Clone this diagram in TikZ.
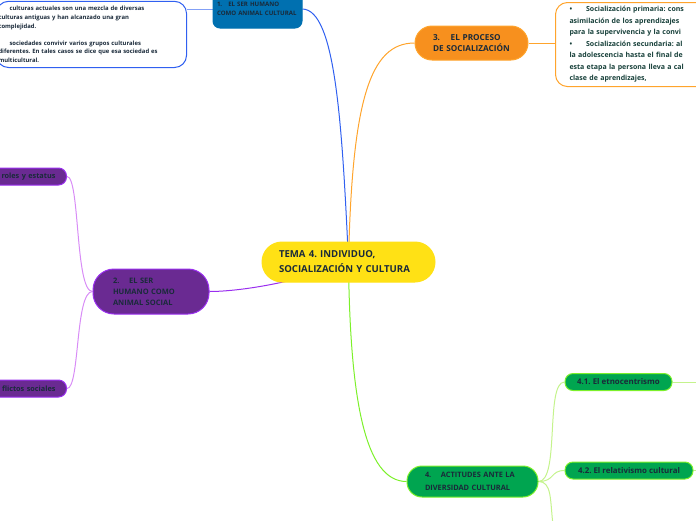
\documentclass[tikz,border=0pt]{standalone}
\usepackage{fontspec}
\setmainfont{Open Sans}
\frenchspacing
\usetikzlibrary{backgrounds}
\definecolor{temayellow}{HTML}{FFE115}
\definecolor{serblue}{HTML}{0070B0}
\definecolor{linkblue}{HTML}{3060F0}
\definecolor{procorange}{HTML}{F7901E}
\definecolor{linkorange}{HTML}{FFA42C}
\definecolor{socpurple}{HTML}{6A2A92}
\definecolor{edgepurple}{HTML}{9A2EEF}
\definecolor{linkpurple}{HTML}{D88CF6}
\definecolor{divgreen}{HTML}{00A550}
\definecolor{edgegreen}{HTML}{7CF02A}
\definecolor{linkgreen}{HTML}{C4F38C}
\definecolor{inkdark}{HTML}{1A2A3A}
\definecolor{inkgreen}{HTML}{17403A}
\begin{document}
\begin{tikzpicture}[x=1pt,y=-1pt,
  topic/.style={draw, line width=1pt, align=left, inner ysep=0pt, text=inkdark,
    font=\bfseries\fontsize{7.5}{11}\selectfont},
  leaf/.style={draw, line width=1pt, rounded corners=8pt, minimum height=17pt,
    inner ysep=0pt, text=inkdark, font=\bfseries\fontsize{7.9}{9}\selectfont},
  note/.style={draw, line width=1pt, fill=white, rounded corners=12pt, align=left},
  link/.style={line width=1pt}
]
\useasboundingbox (0,0) rectangle (696,520);
\clip (0,0) rectangle (696,520);
% central topic
\node[topic, fill=temayellow, draw=temayellow, rounded corners=20pt, minimum height=40pt,
  text width=139pt, inner xsep=17pt, font=\bfseries\fontsize{9.6}{15}\selectfont]
  (tema) at (348.5,262) {TEMA 4. INDIVIDUO,\\SOCIALIZACIÓN Y CULTURA};
% main topics
\node[topic, fill=serblue, draw=serblue, rounded corners=7pt, minimum height=38pt,
  text width=81pt, inner xsep=4pt, font=\bfseries\fontsize{6.1}{9}\selectfont]
  (cultural) at (257.5,9) {1.\hspace{1em}EL SER HUMANO\\COMO ANIMAL CULTURAL};
\node[topic, fill=procorange, draw=linkorange, rounded corners=17pt, minimum height=34pt,
  text width=77pt, inner xsep=18pt, font=\bfseries\fontsize{8.2}{11}\selectfont]
  (proceso) at (471.5,43) {3.\hspace{1.3em}EL PROCESO\\DE SOCIALIZACIÓN};
\node[topic, fill=socpurple, draw=edgepurple, rounded corners=21pt, minimum height=45pt,
  text width=76pt, inner xsep=20pt] (social) at (151,291.5)
  {2.\hspace{1.3em}EL SER\\HUMANO COMO\\ANIMAL SOCIAL};
\node[topic, fill=divgreen, draw=edgegreen, rounded corners=15pt, minimum height=31pt,
  text width=95pt, inner xsep=18pt, font=\bfseries\fontsize{7.4}{13}\selectfont]
  (actitudes) at (472.5,481.5) {4.\hspace{1.3em}ACTITUDES ANTE LA\\DIVERSIDAD CULTURAL};
% subtopics
\node[leaf, fill=socpurple, draw=edgepurple, anchor=east, text width=76pt, inner xsep=11pt,
  align=right, font=\bfseries\fontsize{7.3}{9}\selectfont] (roles) at (67,176.5) {roles y estatus};
\node[leaf, fill=socpurple, draw=edgepurple, anchor=east, text width=76pt, inner xsep=11pt,
  align=right, font=\bfseries\fontsize{7.3}{9}\selectfont] (conflictos) at (67,388.5) {flictos sociales};
\node[leaf, fill=divgreen, draw=edgegreen, minimum width=107pt] (etno) at (618.5,382)
  {4.1. El etnocentrismo};
\node[leaf, fill=divgreen, draw=edgegreen, minimum width=128pt] (relativ) at (629,470.5)
  {4.2. El relativismo cultural};
% notes
\node[note, draw=linkblue, anchor=south east, text width=186pt, inner xsep=2pt, inner ysep=5pt,
  text=inkdark, font=\bfseries\fontsize{5.9}{8.6}\selectfont] (cultnote) at (187,68)
  {\hspace*{11pt}culturas actuales son una mezcla de diversas\\
   culturas antiguas y han alcanzado una gran\\
   complejidad.\\[8.6pt]
   \hspace*{11pt}sociedades convivir varios grupos culturales\\
   diferentes. En tales casos se dice que esa sociedad es\\
   multicultural.};
\node[note, draw=linkorange, anchor=north west, text width=200pt, inner xsep=14pt, inner ysep=4pt,
  text=inkgreen, font=\bfseries\fontsize{7}{11.5}\selectfont] (socnote) at (555,2)
  {\textbullet\hspace{2em}Socialización primaria: cons\\
   asimilación de los aprendizajes\\
   para la supervivencia y la convi\\
   \textbullet\hspace{2em}Socialización secundaria: al\\
   la adolescencia hasta el final de\\
   esta etapa la persona lleva a cal\\
   clase de aprendizajes,};
% connectors
\coordinate (down) at (553,525);
\coordinate (etnoend) at (700,382);
\coordinate (relend) at (700,470.5);
\begin{scope}[on background layer]
\draw[link, linkblue] (cultural.east) .. controls (335,10) and (342,120) .. (tema.center);
\draw[link, linkblue!60] (cultnote.east|-cultural.west) -- (cultural.west);
\draw[link, linkorange] (tema.center) .. controls (352,100) and (370,43) .. (proceso.west);
\draw[link, linkorange] (proceso.east) -- (proceso.east-|socnote.west);
\draw[link, edgepurple] (tema.center) .. controls (300,282) and (240,291.5) .. (social.east);
\draw[link, linkpurple] (social.west) .. controls (75,291.5) and (80,176.5) .. (roles.east);
\draw[link, linkpurple] (social.west) .. controls (75,291.5) and (80,388.5) .. (conflictos.east);
\draw[link, edgegreen] (tema.center) .. controls (350,400) and (365,481.5) .. (actitudes.west);
\draw[link, linkgreen] (actitudes.east) .. controls (560,481.5) and (545,382) .. (etno.west);
\draw[link, linkgreen] (actitudes.east) .. controls (555,481.5) and (550,470.5) .. (relativ.west);
\draw[link, linkgreen] (actitudes.east) .. controls (552,481.5) and (550,500) .. (down);
\draw[link, linkgreen] (etno.east) -- (etnoend);
\draw[link, linkgreen] (relativ.east) -- (relend);
\end{scope}
\end{tikzpicture}
\end{document}
